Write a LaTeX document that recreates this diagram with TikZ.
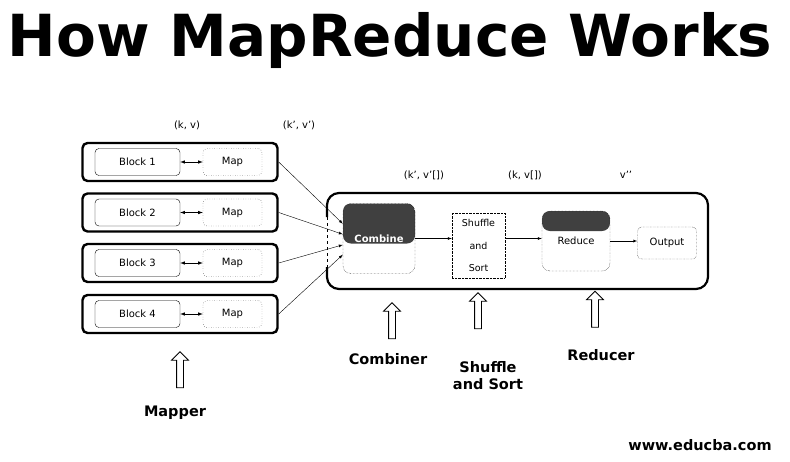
\documentclass[tikz,border=0pt]{standalone}
\usepackage{fontspec}
\setmainfont{DejaVu Sans}
\usetikzlibrary{shapes.arrows,calc}

\begin{document}
\begin{tikzpicture}[
        x=1pt, y=-1pt,
        every node/.style={font=\fontsize{10}{12}\selectfont},
        caixa/.style={draw, line width=2.4pt, rounded corners=5pt, minimum width=195pt, minimum height=38pt},
        bloco/.style={draw, rounded corners=4pt, minimum width=85pt, minimum height=27pt},
        mapa/.style={draw, dotted, rounded corners=4pt, minimum width=59pt, minimum height=27pt},
        etapa/.style={draw, densely dotted, rounded corners=8pt},
        escuro/.style={path picture={\fill[black!75] (path picture bounding box.north west)
            rectangle ([yshift=-#1]path picture bounding box.north east);}},
        liga/.style={-latex, thin},
        duplo/.style={latex-latex, semithick},
        vazada/.style={single arrow, draw, thick, fill=white, rotate=90, minimum height=36pt,
            inner sep=3pt, single arrow head extend=5pt},
        rotulo/.style={font=\fontsize{14.5}{17}\selectfont\bfseries, align=center}
    ]
        \useasboundingbox (0,0) rectangle (790,461);

        % Titulo
        \node[font=\fontsize{58}{60}\selectfont\bfseries] (titulo) at (390, 40) {How MapReduce Works};

        % Pares chave-valor
        \node (kv) at (187, 125) {(k, v)};
        \node (kv1) at (299, 125) {(k’, v’)};
        \node (kv2) at (424, 175) {(k’, v’[])};
        \node (kv3) at (525, 175) {(k, v[])};
        \node (v2) at (626, 175) {v’’};

        % Mapper
        \node[caixa] (c1) at (180, 162) {};
        \node[bloco] (b1) at (137.5, 162) {Block 1};
        \node[mapa] (m1) at (232.5, 162) {Map};
        \draw[duplo] (b1) -- (m1);

        \node[caixa] (c2) at (180, 212.5) {};
        \node[bloco] (b2) at (137.5, 212.5) {Block 2};
        \node[mapa] (m2) at (232.5, 212.5) {Map};
        \draw[duplo] (b2) -- (m2);

        \node[caixa] (c3) at (180, 263) {};
        \node[bloco] (b3) at (137.5, 263) {Block 3};
        \node[mapa] (m3) at (232.5, 263) {Map};
        \draw[duplo] (b3) -- (m3);

        \node[caixa] (c4) at (180, 314) {};
        \node[bloco] (b4) at (137.5, 314) {Block 4};
        \node[mapa] (m4) at (232.5, 314) {Map};
        \draw[duplo] (b4) -- (m4);

        % Moldura do reduce
        \draw[line width=2.2pt, rounded corners=12pt] (327, 217) -- (327, 193) -- (708, 193)
            -- (708, 289) -- (327, 289) -- (327, 267);
        \draw[dashed] (327, 217) -- (327, 267);

        % Etapas
        \node[etapa, escuro=40pt, text=white, font=\fontsize{10}{12}\selectfont\bfseries,
            minimum width=72pt, minimum height=70pt] (cb) at (379, 238.5) {Combine};
        \node[draw, densely dotted, minimum width=53pt, minimum height=65pt, align=center,
            font=\fontsize{9.5}{22.5}\selectfont] (sh) at (478.5, 245.5) {Shuffle\\and\\Sort};
        \node[etapa, escuro=20pt, minimum width=68pt, minimum height=60pt] (rd) at (576, 241) {Reduce};
        \node[etapa, rounded corners=4pt, minimum width=59pt, minimum height=32pt] (out) at (667, 243) {Output};

        \draw[liga] (c1.east) -- ($(cb.north west)!0.29!(cb.south west)$);
        \draw[liga] (c2.east) -- ($(cb.north west)!0.44!(cb.south west)$);
        \draw[liga] (c3.east) -- ($(cb.north west)!0.59!(cb.south west)$);
        \draw[liga] (c4.east) -- ($(cb.north west)!0.73!(cb.south west)$);
        \draw[liga] (cb.east) -- (cb.east -| sh.west);
        \draw[liga] (sh.east |- cb.east) -- (cb.east -| rd.west);
        \draw[liga] (rd.east) -- (rd.east -| out.west);

        % Setas vazadas e rotulos
        \node[vazada] (sm) at (180, 371.5) {};
        \node[vazada] (sc) at (392, 322.5) {};
        \node[vazada] (ss) at (478, 312.5) {};
        \node[vazada] (sr) at (595, 311) {};

        \node[rotulo] (lm) at (175, 413) {Mapper};
        \node[rotulo] (lc) at (388, 359) {Combiner};
        \node[rotulo] (ls) at (488, 376) {Shuffle\\and Sort};
        \node[rotulo] (lr) at (601, 355) {Reducer};

        \node[rotulo] (site) at (700, 445) {www.educba.com};

    \end{tikzpicture}
\end{document}
